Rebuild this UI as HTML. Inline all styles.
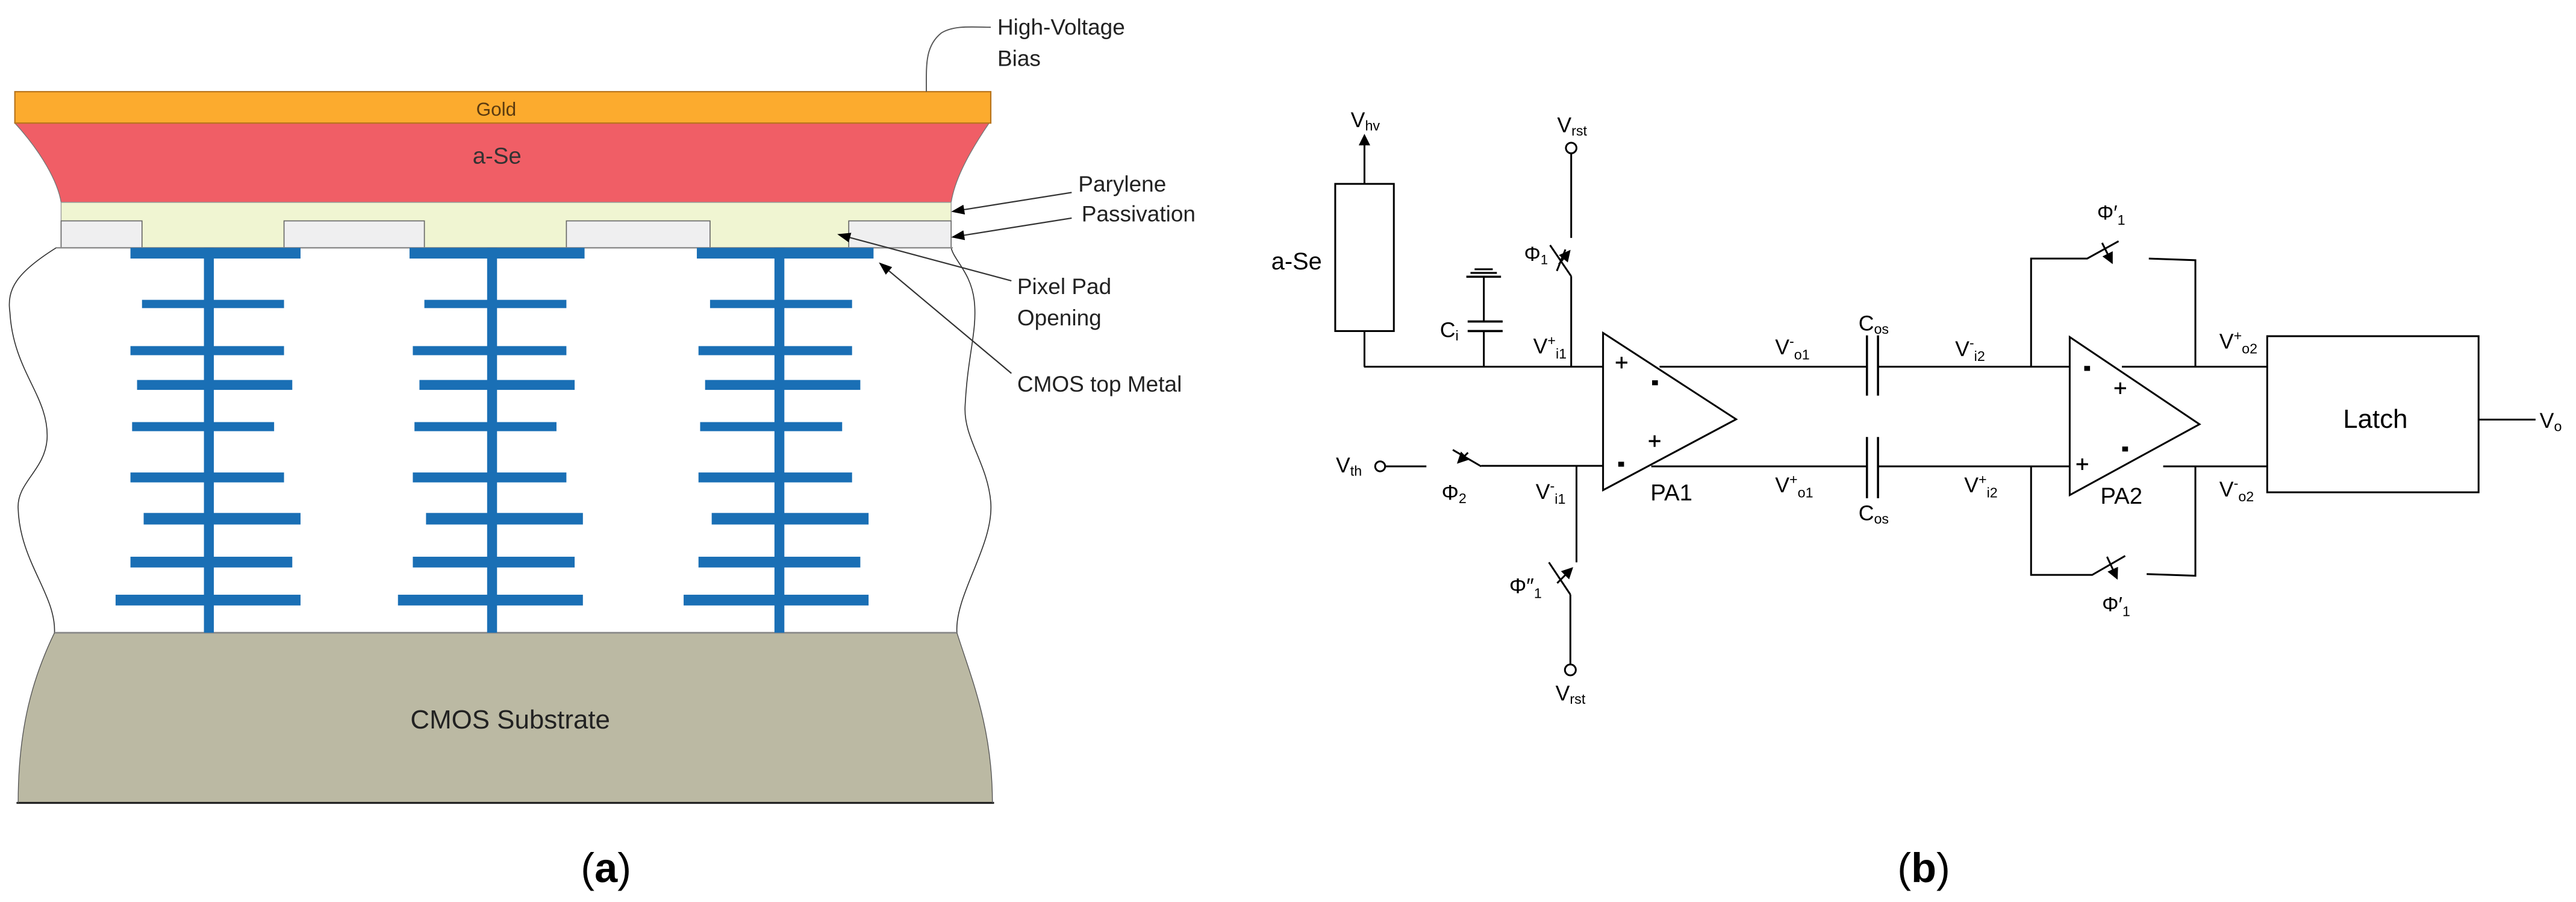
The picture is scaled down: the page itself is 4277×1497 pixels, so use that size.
<!DOCTYPE html>
<html><head><meta charset="utf-8"><style>
html,body{margin:0;padding:0;background:#fff;}
svg{display:block;}
text{font-family:"Liberation Sans",sans-serif;}
</style></head><body>
<svg xmlns="http://www.w3.org/2000/svg" width="4277" height="1497" viewBox="0 0 1560 546" preserveAspectRatio="none">
<defs>
<marker id="ar" markerWidth="8" markerHeight="8" refX="7" refY="4" orient="auto" markerUnits="userSpaceOnUse"><path d="M0,1 L8,4 L0,7 z" fill="#000"/></marker>
<marker id="sw" markerWidth="7" markerHeight="7" refX="6" refY="3.5" orient="auto" markerUnits="userSpaceOnUse"><path d="M0,0 L7,3.5 L0,7 z" fill="#000"/></marker>
</defs>
<rect width="1560" height="546" fill="#fff"/>

<!-- ============ PANEL A ============ -->
<path d="M34,150 C10,165 4,175 6,189 C8,225 30,240 28.5,266 C27,285 10,292 11,308 C12,340 34,360 33,383 L579.5,383 C578,360 602,330 600,304 C598,280 583,265 584.5,245 C586,215 592,200 590,182 C588,165 578,158 576,150 Z" fill="#fff" stroke="#333" stroke-width="0.6"/>
<path d="M33,383 L579.5,383 C588,410 601,440 601,486 L11,486 C11,440 20,410 33,383 Z" fill="#bbb9a3"/>
<line x1="33" y1="383" x2="579.5" y2="383" stroke="#888" stroke-width="1"/>
<line x1="10" y1="486" x2="602" y2="486" stroke="#222" stroke-width="1.2"/>
<path d="M33,383 C20,410 11,440 11,486 M579.5,383 C588,410 601,440 601,486" fill="none" stroke="#555" stroke-width="0.5"/>
<path d="M9,74.5 L599,74.5 C585,95 578,110 576,122.5 L37,122.5 C35,110 25,92 9,74.5 Z" fill="#f05e66" stroke="#777" stroke-width="0.5"/>
<rect x="37" y="122.5" width="539" height="27.5" fill="#f0f5d2" stroke="#999" stroke-width="0.5"/>
<g fill="#efeff0" stroke="#666" stroke-width="0.6">
<path d="M37,150 L37,133.7 L86,133.7 L86,150"/>
<path d="M172,150 L172,133.7 L257,133.7 L257,150"/>
<path d="M343,150 L343,133.7 L430,133.7 L430,150"/>
<path d="M514,150 L514,133.7 L576,133.7 L576,150"/>
</g>
<line x1="34" y1="150" x2="577" y2="150" stroke="#888" stroke-width="0.8"/>
<rect x="9" y="55.5" width="591" height="19" fill="#fcab2e" stroke="#b8741c" stroke-width="0.8"/>
<text x="300.5" y="70" font-size="11.5" text-anchor="middle" fill="#5a3a10">Gold</text>
<text x="301" y="99" font-size="14" text-anchor="middle" fill="#333">a-Se</text>
<text x="309" y="441" font-size="16" text-anchor="middle" fill="#222">CMOS Substrate</text>
<g fill="#1a6fb5">
<rect x="79" y="150" width="103" height="6.5"/>
<rect x="248" y="150" width="106" height="6.5"/>
<rect x="422" y="150" width="107" height="6.5"/>
<rect x="123.5" y="150" width="6" height="233"/>
<rect x="295" y="150" width="6" height="233"/>
<rect x="469" y="150" width="6" height="233"/>
<g id="col1">
<rect x="86" y="181.5" width="86" height="5"/>
<rect x="79" y="209.5" width="93" height="5.5"/>
<rect x="83" y="230" width="94" height="6"/>
<rect x="80" y="255.5" width="86" height="5.5"/>
<rect x="79" y="286" width="93" height="6"/>
<rect x="87" y="310.5" width="95" height="7"/>
<rect x="79" y="337" width="98" height="6.5"/>
<rect x="70" y="360" width="112" height="6.5"/>
</g>
<use href="#col1" x="171"/>
<use href="#col1" x="344"/>
</g>
<path d="M561,55.5 C561,40 560,28 570,20 C578,15 590,16.5 600,16.5" fill="none" stroke="#555" stroke-width="0.7"/>
<text x="604" y="21" font-size="13.5" fill="#222">High-Voltage</text>
<text x="604" y="40" font-size="13.5" fill="#222">Bias</text>
<text x="653" y="116" font-size="13.5" fill="#222">Parylene</text>
<text x="655" y="134" font-size="13.5" fill="#222">Passivation</text>
<line x1="649" y1="116.5" x2="577" y2="128" stroke="#333" stroke-width="0.8" marker-end="url(#ar)"/>
<line x1="649" y1="132" x2="577" y2="143.5" stroke="#333" stroke-width="0.8" marker-end="url(#ar)"/>
<text x="616" y="178" font-size="13.5" fill="#222">Pixel Pad</text>
<text x="616" y="197" font-size="13.5" fill="#222">Opening</text>
<line x1="612.5" y1="170" x2="508" y2="142" stroke="#333" stroke-width="0.8" marker-end="url(#ar)"/>
<text x="616" y="237" font-size="13.5" fill="#222">CMOS top Metal</text>
<line x1="612.5" y1="226" x2="533" y2="159.5" stroke="#333" stroke-width="0.8" marker-end="url(#ar)"/>
<text x="367" y="534" font-size="25" text-anchor="middle" font-family="Liberation Serif, serif">(<tspan font-weight="bold">a</tspan>)</text>
<text x="1165" y="534" font-size="25" text-anchor="middle" font-family="Liberation Serif, serif">(<tspan font-weight="bold">b</tspan>)</text>

<!-- ============ PANEL B ============ -->
<g stroke="#000" stroke-width="1.1" fill="none">
<!-- a-Se resistor -->
<rect x="808.6" y="111.3" width="35.5" height="89.1"/>
<line x1="826.3" y1="111.3" x2="826.3" y2="82" marker-end="url(#sw)"/>
<line x1="826.3" y1="200.4" x2="826.3" y2="222"/>
<line x1="826" y1="222" x2="970.8" y2="222"/>
<!-- Ci -->
<line x1="898.6" y1="222" x2="898.6" y2="200.4"/>
<line x1="888.8" y1="200.4" x2="910" y2="200.4" stroke-width="1.3"/>
<line x1="888.8" y1="194.6" x2="910" y2="194.6" stroke-width="1.3"/>
<line x1="898.6" y1="194.6" x2="898.6" y2="167.5"/>
<line x1="888" y1="167.5" x2="909" y2="167.5" stroke-width="1.3"/>
<line x1="890.5" y1="165.2" x2="906.5" y2="165.2"/>
<line x1="893" y1="163" x2="904" y2="163"/>
<!-- Vrst top + phi1 -->
<circle cx="951.5" cy="89.6" r="3.2" fill="#fff"/>
<line x1="951.5" y1="92.8" x2="951.5" y2="144"/>
<line x1="951.5" y1="167.2" x2="938.7" y2="148.4"/>
<line x1="944" y1="160" x2="950.5" y2="152" marker-end="url(#sw)"/>
<line x1="942.8" y1="164" x2="948" y2="151"/>
<line x1="951.5" y1="167.2" x2="951.5" y2="222"/>
<!-- PA1 -->
<path d="M970.8,201.5 L970.8,296.7 L1051.4,253.8 Z"/>
<line x1="1005" y1="222" x2="1130.1" y2="222"/>
<line x1="1130.6" y1="203" x2="1130.6" y2="239.5" stroke-width="1.3"/>
<line x1="1137.3" y1="203" x2="1137.3" y2="239.5" stroke-width="1.3"/>
<line x1="1137.3" y1="222" x2="1253.4" y2="222"/>
<line x1="1000" y1="282.3" x2="1130.1" y2="282.3"/>
<line x1="1130.6" y1="264.5" x2="1130.6" y2="301.6" stroke-width="1.3"/>
<line x1="1137.3" y1="264.5" x2="1137.3" y2="301.6" stroke-width="1.3"/>
<line x1="1137.3" y1="282.3" x2="1253.4" y2="282.3"/>
<!-- PA2 -->
<path d="M1253.4,204 L1253.4,299.7 L1332,256.8 Z"/>
<path d="M1230,222 L1230,156.5 L1264,156.5 L1283,146"/>
<line x1="1273" y1="147" x2="1279" y2="159" marker-end="url(#sw)"/>
<path d="M1301.3,156.5 L1329.5,157.5 L1329.5,222"/>
<path d="M1230,282.3 L1230,348 L1267,348 L1287,336.5"/>
<line x1="1276" y1="337" x2="1282" y2="350" marker-end="url(#sw)"/>
<path d="M1300,347.5 L1329.5,348.5 L1329.5,282.3"/>
<line x1="1285" y1="222" x2="1373" y2="222"/>
<line x1="1310" y1="282.3" x2="1373" y2="282.3"/>
<!-- latch -->
<rect x="1373" y="203.5" width="128" height="94.5"/>
<line x1="1501" y1="254" x2="1535.5" y2="254"/>
<!-- lower-left -->
<circle cx="835.8" cy="282.3" r="3" fill="#fff"/>
<line x1="838.8" y1="282.3" x2="863.8" y2="282.3"/>
<line x1="897" y1="282.3" x2="879.8" y2="272.3"/>
<line x1="889" y1="274" x2="883" y2="280" marker-end="url(#sw)"/>
<line x1="897" y1="282" x2="970.8" y2="282"/>
<line x1="954.7" y1="282" x2="954.7" y2="340.4"/>
<line x1="951" y1="359.9" x2="938" y2="340.4"/>
<line x1="943" y1="353" x2="952" y2="344" marker-end="url(#sw)"/>
<line x1="951" y1="359.9" x2="951" y2="402.2"/>
<circle cx="951" cy="405.5" r="3.3" fill="#fff"/>
</g>
<!-- opamp signs -->
<g stroke="#000" stroke-width="1.2">
<line x1="978.5" y1="219.5" x2="985.5" y2="219.5"/><line x1="982" y1="216" x2="982" y2="223"/>
<line x1="998.5" y1="267" x2="1005.5" y2="267"/><line x1="1002" y1="263.5" x2="1002" y2="270.5"/>
<line x1="1280.5" y1="235" x2="1287.5" y2="235"/><line x1="1284" y1="231.5" x2="1284" y2="238.5"/>
<line x1="1257.5" y1="281" x2="1264.5" y2="281"/><line x1="1261" y1="277.5" x2="1261" y2="284.5"/>
</g>
<g fill="#000">
<rect x="1000.5" y="230.2" width="3.5" height="3"/>
<rect x="980" y="279.5" width="3.5" height="3"/>
<rect x="1262.2" y="221.5" width="3.5" height="3"/>
<rect x="1285.2" y="270.3" width="3.5" height="3"/>
</g>
<!-- panel b labels -->
<g font-size="13" fill="#000">
<text x="818" y="77">V<tspan font-size="8.5" dy="2">hv</tspan></text>
<text x="800.5" y="163" font-size="14.5" text-anchor="end">a-Se</text>
<text x="943" y="80">V<tspan font-size="8.5" dy="2">rst</tspan></text>
<text x="923" y="158" font-size="12.5">Φ<tspan font-size="8" dy="2">1</tspan></text>
<text x="872" y="204">C<tspan font-size="8.5" dy="2">i</tspan></text>
<text x="928.5" y="214">V<tspan font-size="8.5" dy="-5">+</tspan><tspan font-size="8.5" dy="8">i1</tspan></text>
<text x="809" y="286">V<tspan font-size="8.5" dy="2">th</tspan></text>
<text x="873" y="302.5">Φ<tspan font-size="8.5" dy="2">2</tspan></text>
<text x="930" y="302">V<tspan font-size="8.5" dy="-5">-</tspan><tspan font-size="8.5" dy="8">i1</tspan></text>
<text x="914" y="359">Φ″<tspan font-size="8.5" dy="3">1</tspan></text>
<text x="942" y="424">V<tspan font-size="8.5" dy="2">rst</tspan></text>
<text x="999.5" y="303" font-size="14">PA1</text>
<text x="1075" y="214.5">V<tspan font-size="8.5" dy="-5">-</tspan><tspan font-size="8.5" dy="8">o1</tspan></text>
<text x="1075" y="298">V<tspan font-size="8.5" dy="-5">+</tspan><tspan font-size="8.5" dy="8">o1</tspan></text>
<text x="1125.5" y="200">C<tspan font-size="8.5" dy="2">os</tspan></text>
<text x="1125.5" y="315">C<tspan font-size="8.5" dy="2">os</tspan></text>
<text x="1184" y="215.5">V<tspan font-size="8.5" dy="-5">-</tspan><tspan font-size="8.5" dy="8">i2</tspan></text>
<text x="1189.5" y="298">V<tspan font-size="8.5" dy="-5">+</tspan><tspan font-size="8.5" dy="8">i2</tspan></text>
<text x="1272" y="305" font-size="14">PA2</text>
<text x="1270" y="133" font-size="12.5">Φ′<tspan font-size="8.5" dy="3">1</tspan></text>
<text x="1273" y="370" font-size="12.5">Φ′<tspan font-size="8.5" dy="3">1</tspan></text>
<text x="1344" y="211">V<tspan font-size="8.5" dy="-5">+</tspan><tspan font-size="8.5" dy="8">o2</tspan></text>
<text x="1344" y="300.5">V<tspan font-size="8.5" dy="-5">-</tspan><tspan font-size="8.5" dy="8">o2</tspan></text>
<text x="1438.5" y="259" font-size="16" text-anchor="middle">Latch</text>
<text x="1538" y="259">V<tspan font-size="8.5" dy="2">o</tspan></text>
</g>
</svg>
</body></html>
